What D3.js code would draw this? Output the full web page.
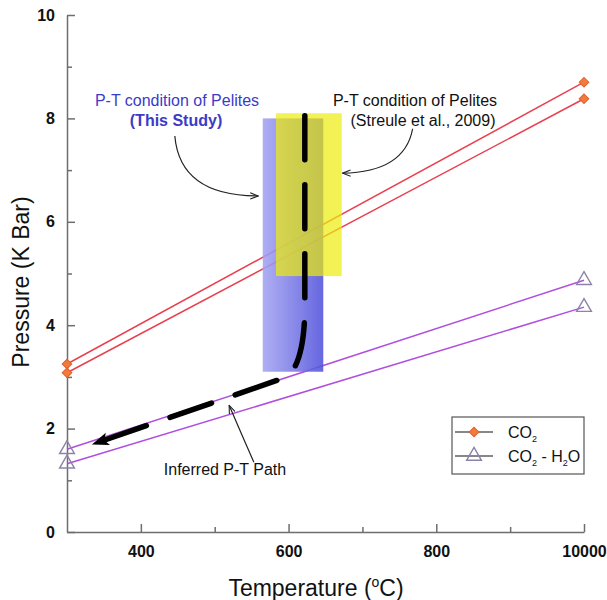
<!DOCTYPE html>
<html>
<head>
<meta charset="utf-8">
<script src="https://d3js.org/d3.v7.min.js"></script>
<style>
  body { margin: 0; background: #fff; }
  svg { font-family: Arial, "Liberation Sans", sans-serif; }
</style>
</head>
<body>
<svg width="607" height="600"></svg>
<script>
// end points of the reaction curves (temperature in °C, pressure in kbar)
const temps = [300, 1000];
const co2Upper = [3.25, 8.70];
const co2Lower = [3.08, 8.38];
const mixUpper = [1.60, 4.87];
const mixLower = [1.32, 4.35];

// P-T boxes
const studyT = [565, 647];
const studyP = [3.1, 8.0];
const streuleT = [583, 672];
const streuleP = [4.95, 8.1];

// inferred path: straight, corner (quadratic control), straight
const pathT = [622, 622, 621, 598, 335];
const pathP = [8.05, 4.3, 3.28, 3.0, 1.70];

const xTicks = [400, 600, 800, 1000];
const xTickLabels = ["400", "600", "800", "10000"];
const xMinor = [500, 700, 900];
const yTicks = [0, 2, 4, 6, 8, 10];
const yMinor = [1, 3, 5, 7, 9];

const svg = d3.select("svg");
const x = d3.scaleLinear().domain([300, 1000]).range([67, 584]);
const y = d3.scaleLinear().domain([0, 10]).range([532, 15]);

const defs = svg.append("defs");
const grad = defs.append("linearGradient").attr("id", "blueGrad");
grad.append("stop").attr("offset", "0%").attr("stop-color", "#a4a4f2");
grad.append("stop").attr("offset", "100%").attr("stop-color", "#5252dc");

defs.append("marker")
    .attr("id", "bigArrow")
    .attr("markerUnits", "userSpaceOnUse")
    .attr("viewBox", "0 -8 18 16")
    .attr("refX", 16).attr("refY", 0)
    .attr("markerWidth", 18).attr("markerHeight", 16)
    .attr("orient", "auto")
    .append("path")
    .attr("d", "M0,-6.5 L17,0 L0,6.5 L4,0 Z")
    .attr("fill", "#000");

defs.append("marker")
    .attr("id", "smallArrow")
    .attr("markerUnits", "userSpaceOnUse")
    .attr("viewBox", "0 -5 10 10")
    .attr("refX", 9).attr("refY", 0)
    .attr("markerWidth", 9).attr("markerHeight", 9)
    .attr("orient", "auto")
    .append("path")
    .attr("d", "M0,-3.5 L9,0 L0,3.5")
    .attr("fill", "none")
    .attr("stroke", "#222")
    .attr("stroke-width", 1.2);

// axes
const axisColor = "#6e6e6e";
function styleAxis(g) {
    g.selectAll("path, line").attr("stroke", axisColor).attr("stroke-width", 1.5);
    g.selectAll("text").attr("font-size", 16).attr("font-weight", "bold").attr("fill", "#111");
}
svg.append("g")
    .attr("transform", "translate(0,532)")
    .call(d3.axisBottom(x).tickValues(xTicks).tickSize(-8).tickSizeOuter(0)
        .tickFormat((d, i) => xTickLabels[i]).tickPadding(14))
    .call(styleAxis);
svg.append("g")
    .attr("transform", "translate(0,532)")
    .call(d3.axisBottom(x).tickValues(xMinor).tickSize(-5).tickFormat(""))
    .call(g => g.select(".domain").remove())
    .call(styleAxis);
svg.append("g")
    .attr("transform", "translate(67,0)")
    .call(d3.axisLeft(y).tickValues(yTicks).tickSize(-8).tickSizeOuter(0).tickPadding(12))
    .call(styleAxis);
svg.append("g")
    .attr("transform", "translate(67,0)")
    .call(d3.axisLeft(y).tickValues(yMinor).tickSize(-5).tickFormat(""))
    .call(g => g.select(".domain").remove())
    .call(styleAxis);

svg.append("text")
    .attr("transform", "translate(29,282) rotate(-90)")
    .attr("text-anchor", "middle")
    .attr("font-size", 23)
    .attr("fill", "#111")
    .text("Pressure (K Bar)");
const xl = svg.append("text")
    .attr("x", 316).attr("y", 596)
    .attr("text-anchor", "middle")
    .attr("font-size", 23)
    .attr("fill", "#111");
xl.append("tspan").text("Temperature (");
xl.append("tspan").attr("font-size", 14).attr("dy", -9).text("o");
xl.append("tspan").attr("dy", 9).text("C)");

// reaction lines
const series = [
    {vals: co2Upper, color: "#e8404f", kind: "co2"},
    {vals: co2Lower, color: "#e8404f", kind: "co2"},
    {vals: mixUpper, color: "#b04ee0", kind: "mix"},
    {vals: mixLower, color: "#b04ee0", kind: "mix"}
];
const line = d3.line().x((d, i) => x(temps[i])).y(d => y(d));
svg.selectAll(".rline").data(series).enter()
    .append("path")
    .attr("class", "rline")
    .attr("d", d => line(d.vals))
    .attr("fill", "none")
    .attr("stroke", d => d.color)
    .attr("stroke-width", 1.5);

// P-T boxes
svg.append("rect")
    .attr("x", x(studyT[0])).attr("y", y(studyP[1]))
    .attr("width", x(studyT[1]) - x(studyT[0]))
    .attr("height", y(studyP[0]) - y(studyP[1]))
    .attr("fill", "url(#blueGrad)")
    .attr("opacity", 0.88);
svg.append("rect")
    .attr("x", x(streuleT[0])).attr("y", y(streuleP[1]))
    .attr("width", x(streuleT[1]) - x(streuleT[0]))
    .attr("height", y(streuleP[0]) - y(streuleP[1]))
    .attr("fill", "#ecec0c")
    .attr("opacity", 0.7);

// markers
const diamond = d3.symbol().type(d3.symbolSquare).size(46);
const tri = d3.symbol().type(d3.symbolTriangle).size(95);
series.forEach(s => {
    s.vals.forEach((v, i) => {
        if (s.kind === "co2") {
            svg.append("path")
                .attr("d", diamond())
                .attr("transform", `translate(${x(temps[i])},${y(v)}) rotate(45)`)
                .attr("fill", "#f27a3a")
                .attr("stroke", "#e2602c")
                .attr("stroke-width", 1);
        } else {
            svg.append("path")
                .attr("d", tri())
                .attr("transform", `translate(${x(temps[i])},${y(v)})`)
                .attr("fill", "none")
                .attr("stroke", "#8c84a8")
                .attr("stroke-width", 1.4);
        }
    });
});

// inferred P-T path
const pp = d3.path();
pp.moveTo(x(pathT[0]), y(pathP[0]));
pp.lineTo(x(pathT[1]), y(pathP[1]));
pp.quadraticCurveTo(x(pathT[2]), y(pathP[2]), x(pathT[3]), y(pathP[3]));
pp.lineTo(x(pathT[4]), y(pathP[4]));
svg.append("path")
    .attr("d", pp.toString())
    .attr("fill", "none")
    .attr("stroke", "#000")
    .attr("stroke-width", 5.5)
    .attr("stroke-linecap", "round")
    .attr("stroke-dasharray", "44 25")
    .attr("marker-end", "url(#bigArrow)");

// annotations
function curveArrow(p) {
    const a = d3.path();
    a.moveTo(x(p[0][0]), y(p[0][1]));
    a.quadraticCurveTo(x(p[1][0]), y(p[1][1]), x(p[2][0]), y(p[2][1]));
    svg.append("path")
        .attr("d", a.toString())
        .attr("fill", "none")
        .attr("stroke", "#222")
        .attr("stroke-width", 1.2)
        .attr("marker-end", "url(#smallArrow)");
}
curveArrow([[446, 7.66], [453, 6.50], [559, 6.50]]);
curveArrow([[768, 7.80], [757, 6.96], [673, 6.94]]);
curveArrow([[553, 1.35], [536, 1.90], [519.5, 2.45]]);

const blue = "#3b3bc8";
svg.append("text").attr("x", 177).attr("y", 106).attr("text-anchor", "middle")
    .attr("font-size", 16).attr("fill", blue).text("P-T condition of Pelites");
svg.append("text").attr("x", 176).attr("y", 126).attr("text-anchor", "middle")
    .attr("font-size", 16).attr("font-weight", "bold").attr("fill", blue).text("(This Study)");
svg.append("text").attr("x", 415).attr("y", 106).attr("text-anchor", "middle")
    .attr("font-size", 16).attr("fill", "#111").text("P-T condition of Pelites");
svg.append("text").attr("x", 423).attr("y", 126).attr("text-anchor", "middle")
    .attr("font-size", 16).attr("fill", "#111").text("(Streule et al., 2009)");
svg.append("text").attr("x", 225).attr("y", 475).attr("text-anchor", "middle")
    .attr("font-size", 16).attr("fill", "#111").text("Inferred P-T Path");

// legend
const lg = svg.append("g").attr("transform", "translate(452,417)");
lg.append("rect").attr("width", 132).attr("height", 57)
    .attr("fill", "#fff").attr("stroke", "#555").attr("stroke-width", 1.2);
const legendItems = [
    {kind: "co2", label: ["CO", "2", ""]},
    {kind: "mix", label: ["CO", "2", " - H", "2", "O"]}
];
legendItems.forEach((it, i) => {
    const yy = 15 + i * 24;
    lg.append("line").attr("x1", 3).attr("x2", 41).attr("y1", yy).attr("y2", yy)
        .attr("stroke", "#111").attr("stroke-width", 1.2);
    if (it.kind === "co2") {
        lg.append("path").attr("d", diamond())
            .attr("transform", `translate(22,${yy}) rotate(45)`)
            .attr("fill", "#f27a3a").attr("stroke", "#e2602c");
    } else {
        lg.append("path").attr("d", tri())
            .attr("transform", `translate(22,${yy})`)
            .attr("fill", "none").attr("stroke", "#8c84a8").attr("stroke-width", 1.4);
    }
    const t = lg.append("text").attr("x", 56).attr("y", yy + 6)
        .attr("font-size", 16).attr("fill", "#111");
    it.label.forEach((part, j) => {
        const sub = j % 2 === 1;
        t.append("tspan")
            .attr("font-size", sub ? 9 : 16)
            .attr("dy", sub ? 4 : (j > 0 ? -4 : 0))
            .text(part);
    });
});
</script>
</body>
</html>
